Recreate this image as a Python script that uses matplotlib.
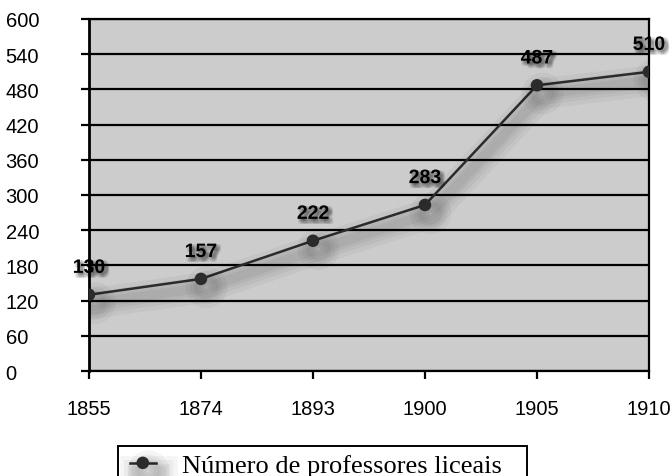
import matplotlib.pyplot as plt
import matplotlib.patheffects as pe
from matplotlib.patches import Rectangle

years = ['1855', '1874', '1893', '1900', '1905', '1910']
professores = [130, 157, 222, 283, 487, 510]
y_ticks = list(range(0, 601, 60))

fig = plt.figure(figsize=(6.72, 4.77), dpi=100)
ax = fig.add_axes([0.1324, 0.2201, 0.8333, 0.738])
ax.set_facecolor('#cccccc')

x = list(range(len(years)))
# soft drop shadow under the line
shadow = [pe.SimpleLineShadow(offset=(4, -6), shadow_color='black', alpha=0.04, linewidth=w)
          for w in (22, 16, 11, 7)] + [pe.Normal()]
ax.plot(x, professores, color='#2b2b2b', lw=1.8, marker='o', markersize=8,
        label='Número de professores liceais', path_effects=shadow, zorder=3)

# blurred text shadow, made of several offset copies
txt_shadow = []
for dx in (0.5, 1.5, 2.5, 3.5):
    for dy in (-0.5, -1.5, -2.5, -3.5):
        txt_shadow.append(pe.SimplePatchShadow(offset=(dx, dy), shadow_rgbFace='black', alpha=0.06))
txt_shadow.append(pe.Normal())
for xi, v in zip(x, professores):
    ax.annotate(str(v), (xi, v), xytext=(0, 19), textcoords='offset points',
                ha='center', va='center', fontsize=14, fontweight='bold',
                fontfamily='Liberation Sans', color='black', zorder=4,
                path_effects=txt_shadow)

ax.set_xlim(0, len(years) - 1)
ax.set_ylim(0, 600)
ax.set_xticks(x)
ax.set_xticklabels(years)
ax.set_yticks(y_ticks)
ax.yaxis.grid(True, color='black', lw=1.6)
ax.set_axisbelow(True)
for s in ax.spines.values():
    s.set_color('black')
    s.set_linewidth(1.6)
ax.spines['left'].set_linewidth(2)
ax.tick_params(axis='both', direction='out', length=6, width=1.6, labelsize=14.5)
ax.tick_params(axis='x', pad=14)
ax.tick_params(axis='y', pad=54)
for lab in ax.get_xticklabels() + ax.get_yticklabels():
    lab.set_fontfamily('Liberation Sans')
for lab in ax.get_yticklabels():
    lab.set_horizontalalignment('left')

# legend box runs past the bottom edge, as in the original
fig.patches.append(Rectangle((118 / 672, -0.05), (527 - 118) / 672, 0.05 + (477 - 447) / 477,
                             transform=fig.transFigure, fill=False, edgecolor='black', lw=1.4))
leg = ax.legend(loc='upper left', bbox_to_anchor=(0.185, 0.058), bbox_transform=fig.transFigure,
                prop={'family': 'Liberation Serif', 'size': 19}, frameon=False,
                borderpad=0.2, handlelength=1.0, handletextpad=1.0, borderaxespad=0)

fig.savefig('out.png', dpi=100)
